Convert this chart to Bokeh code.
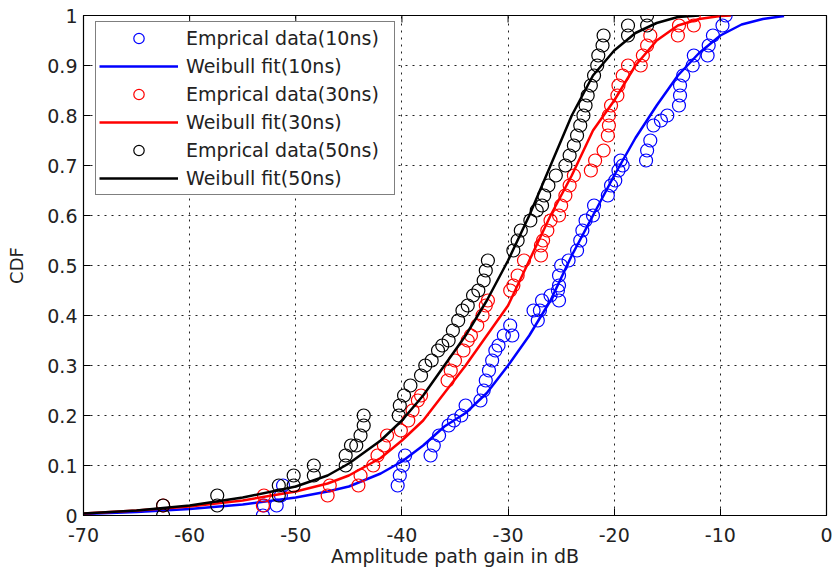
import math
from bokeh.plotting import figure
from bokeh.models import FixedTicker, CustomJSTickFormatter, Legend
from bokeh.embed import file_html
from bokeh.resources import INLINE

# ---- data ----
x_ticks = [-70, -60, -50, -40, -30, -20, -10, 0]
y_ticks = [0, 0.1, 0.2, 0.3, 0.4, 0.5, 0.6, 0.7, 0.8, 0.9, 1]

# Empirical data (10 ns) - blue circles
emp10_x = [-53.1, -53.0, -51.8, -51.4, -51.2, -40.4, -40.2, -39.9, -39.7, -37.3, -37.0, -36.5, -35.6, -35.1,
           -34.4, -34.0, -32.6, -32.3, -32.1, -31.8, -31.5, -31.2, -30.9, -30.4, -29.8, -29.6, -27.2, -27.0,
           -27.6, -26.8, -26.0, -25.2, -25.3, -25.2, -25.2, -25.0, -24.3, -23.5, -23.2, -23.0, -22.7, -22.0,
           -21.9, -20.6, -20.3, -19.9, -19.6, -19.2, -19.4, -17.0, -16.9, -16.6, -16.3, -15.6, -15.0, -13.9,
           -13.8, -13.8, -13.5, -12.6, -12.5, -11.2, -11.1, -10.7, -9.8, -9.5]
emp10_y = [0.00, 0.02, 0.02, 0.04, 0.06, 0.06, 0.08, 0.10, 0.12, 0.12, 0.14, 0.16, 0.18, 0.19,
           0.20, 0.22, 0.23, 0.25, 0.27, 0.29, 0.31, 0.33, 0.34, 0.36, 0.38, 0.36, 0.39, 0.41,
           0.41, 0.43, 0.44, 0.43, 0.45, 0.46, 0.48, 0.50, 0.51, 0.53, 0.55, 0.57, 0.59, 0.60,
           0.62, 0.64, 0.66, 0.67, 0.69, 0.70, 0.71, 0.71, 0.73, 0.75, 0.78, 0.79, 0.80, 0.82,
           0.84, 0.86, 0.88, 0.90, 0.92, 0.92, 0.94, 0.96, 0.98, 1.00]

# Weibull fit (10 ns) - blue line
fit10_x = [-70, -65, -60, -55, -50, -47, -45, -42, -40, -38, -36, -34, -32, -30, -28, -26, -24, -22,
           -20, -18, -16, -14, -12, -10, -8, -6, -4]
fit10_y = [0.003, 0.007, 0.013, 0.022, 0.036, 0.048, 0.058, 0.084, 0.108, 0.14, 0.178, 0.205, 0.245,
           0.30, 0.36, 0.43, 0.52, 0.60, 0.68, 0.755, 0.82, 0.88, 0.925, 0.96, 0.982, 0.993, 0.999]

# Empirical data (30 ns) - red circles
emp30_x = [-62.5, -53.1, -53.0, -47.0, -46.8, -44.1, -43.9, -42.7, -42.3, -41.7, -41.4, -40.1, -39.4,
           -39.0, -38.5, -38.2, -35.7, -35.4, -35.0, -34.2, -33.8, -33.5, -32.9, -32.4, -32.1, -31.9,
           -29.8, -29.5, -29.1, -28.5, -26.9, -26.9, -26.7, -26.3, -26.0, -25.2, -25.0, -24.6, -24.2,
           -23.8, -22.2, -21.8, -21.0, -20.6, -20.5, -20.5, -20.3, -19.7, -19.6, -19.2, -18.7, -17.5,
           -17.3, -16.9, -16.6, -14.0, -13.9, -12.5, -12.5]
emp30_y = [0.02, 0.02, 0.04, 0.04, 0.06, 0.06, 0.08, 0.10, 0.12, 0.14, 0.16, 0.17, 0.19,
           0.21, 0.23, 0.24, 0.27, 0.29, 0.31, 0.33, 0.35, 0.36, 0.38, 0.40, 0.42, 0.43,
           0.45, 0.46, 0.48, 0.51, 0.52, 0.54, 0.55, 0.57, 0.59, 0.60, 0.62, 0.64, 0.66,
           0.68, 0.69, 0.71, 0.73, 0.76, 0.78, 0.80, 0.82, 0.84, 0.86, 0.88, 0.90, 0.90,
           0.92, 0.94, 0.96, 0.96, 0.98, 0.98, 1.00]

# Weibull fit (30 ns) - red line
fit30_x = [-70, -65, -60, -55, -50, -47, -45, -42, -40, -38, -36, -34, -32, -30, -28, -26, -24, -22,
           -20, -18, -16, -14, -12, -10, -9]
fit30_y = [0.004, 0.01, 0.018, 0.03, 0.048, 0.064, 0.08, 0.115, 0.15, 0.19, 0.245, 0.30, 0.36, 0.42,
           0.51, 0.60, 0.68, 0.77, 0.83, 0.90, 0.95, 0.98, 0.993, 0.999, 1.0]

# Empirical data (50 ns) - black circles
emp50_x = [-62.5, -62.5, -57.4, -57.4, -51.6, -51.6, -50.2, -50.2, -48.3, -48.3, -45.3, -45.3, -44.8,
           -44.3, -43.9, -43.6, -43.6, -40.3, -40.2, -39.8, -39.2, -38.2, -37.8, -37.2, -36.6, -36.2,
           -35.6, -35.2, -34.7, -34.3, -33.8, -33.3, -32.8, -32.3, -32.1, -31.9, -29.5, -29.1, -28.8,
           -27.9, -27.3, -26.8, -26.6, -26.2, -25.5, -24.6, -24.2, -23.8, -23.5, -23.2, -22.9, -22.7,
           -22.5, -22.2, -21.9, -21.6, -21.5, -21.1, -21.0, -18.7, -18.7, -16.9, -16.9]
emp50_y = [0.00, 0.02, 0.02, 0.04, 0.04, 0.06, 0.06, 0.08, 0.08, 0.10, 0.10, 0.12, 0.14,
           0.14, 0.16, 0.18, 0.20, 0.20, 0.22, 0.24, 0.26, 0.28, 0.30, 0.31, 0.33, 0.34,
           0.35, 0.37, 0.39, 0.41, 0.42, 0.44, 0.45, 0.47, 0.49, 0.51, 0.53, 0.55, 0.57,
           0.59, 0.61, 0.62, 0.64, 0.66, 0.68, 0.70, 0.72, 0.74, 0.76, 0.78, 0.80, 0.82,
           0.84, 0.86, 0.88, 0.90, 0.92, 0.94, 0.96, 0.96, 0.98, 0.98, 1.00]

# Weibull fit (50 ns) - black line
fit50_x = [-70, -65, -60, -55, -50, -47, -45, -42, -40, -38, -36, -34, -32, -30, -28, -26, -24, -22,
           -20, -18, -16, -14, -12]
fit50_y = [0.004, 0.01, 0.02, 0.036, 0.058, 0.08, 0.104, 0.15, 0.19, 0.24, 0.30, 0.36, 0.43, 0.51,
           0.60, 0.70, 0.80, 0.88, 0.93, 0.965, 0.985, 0.997, 1.0]

x_label = "Amplitude path gain in dB"
y_label = "CDF"

FONT = "DejaVu Sans"
TXT = "#222222"

p = figure(width=834, height=574,
           x_range=(x_ticks[0], x_ticks[-1]), y_range=(y_ticks[0], y_ticks[-1]),
           output_backend="svg", toolbar_location=None,
           min_border_left=83, min_border_right=8, min_border_top=15, min_border_bottom=59)

p.background_fill_color = "white"
p.border_fill_color = "white"
p.outline_line_color = "black"
p.outline_line_width = 1.2

series = [
    (emp10_x, emp10_y, fit10_x, fit10_y, "#0000ff", "10ns"),
    (emp30_x, emp30_y, fit30_x, fit30_y, "#ff0000", "30ns"),
    (emp50_x, emp50_y, fit50_x, fit50_y, "#000000", "50ns"),
]
items = []
for ex, ey, fx, fy, col, tag in series:
    r1 = p.scatter(ex, ey, marker="circle", size=13, fill_color=None, line_color=col, line_width=1.2)
    r2 = p.line(fx, fy, line_color=col, line_width=2.5)
    items.append(("Emprical data(%s)" % tag, [r1]))
    items.append(("Weibull fit(%s)" % tag, [r2]))

# mirrored inward ticks on the top and right frame edges (half of each dash is clipped by the frame)
p.scatter(x_ticks, [y_ticks[-1]] * len(x_ticks), marker="dash", size=14, angle=math.pi / 2,
          line_color="black", line_width=1)
p.scatter([x_ticks[-1]] * len(y_ticks), y_ticks, marker="dash", size=14,
          line_color="black", line_width=1)

xfmt = CustomJSTickFormatter(code="return String(tick);")
yfmt = CustomJSTickFormatter(code="return String(Math.round(tick*10)/10);")

for ax in p.xaxis:
    ax.ticker = FixedTicker(ticks=x_ticks)
    ax.formatter = xfmt
    ax.axis_label = x_label
    ax.major_label_standoff = 12
    ax.axis_label_standoff = 0
    ax.axis_label_text_font_size = "19px"
    ax.major_label_text_line_height = 1.0
    ax.axis_label_text_line_height = 1.0
for ax in p.yaxis:
    ax.ticker = FixedTicker(ticks=y_ticks)
    ax.formatter = yfmt
    ax.axis_label = y_label
    ax.axis_label_standoff = 17
    ax.major_label_standoff = 6
    ax.axis_label_text_font_size = "18px"

for ax in list(p.xaxis) + list(p.yaxis):
    ax.major_tick_in = 7
    ax.major_tick_out = 0
    ax.minor_tick_line_color = None
    ax.axis_line_color = "black"
    ax.major_tick_line_color = "black"
    ax.major_label_text_font = FONT
    ax.major_label_text_font_size = "19px"
    ax.major_label_text_color = TXT
    ax.axis_label_text_font = FONT
    ax.axis_label_text_font_style = "normal"
    ax.axis_label_text_color = TXT

for g in [p.xgrid[0], p.ygrid[0]]:
    g.grid_line_color = "#222222"
    g.grid_line_dash = "2 5"
    g.grid_line_width = 1
p.xgrid[0].ticker = FixedTicker(ticks=x_ticks)
p.ygrid[0].ticker = FixedTicker(ticks=y_ticks)

legend = Legend(items=items, location=(12, 320), margin=0)
legend.border_line_color = "black"
legend.border_line_width = 1
legend.background_fill_color = "white"
legend.background_fill_alpha = 1
legend.label_text_font = FONT
legend.label_text_font_size = "19px"
legend.label_text_color = TXT
legend.glyph_width = 79
legend.glyph_height = 26
legend.label_height = 26
legend.label_width = 205
legend.label_standoff = 8
legend.spacing = 2
legend.padding = 3
p.add_layout(legend, "center")

open("out.html", "w").write(file_html(p, INLINE))
